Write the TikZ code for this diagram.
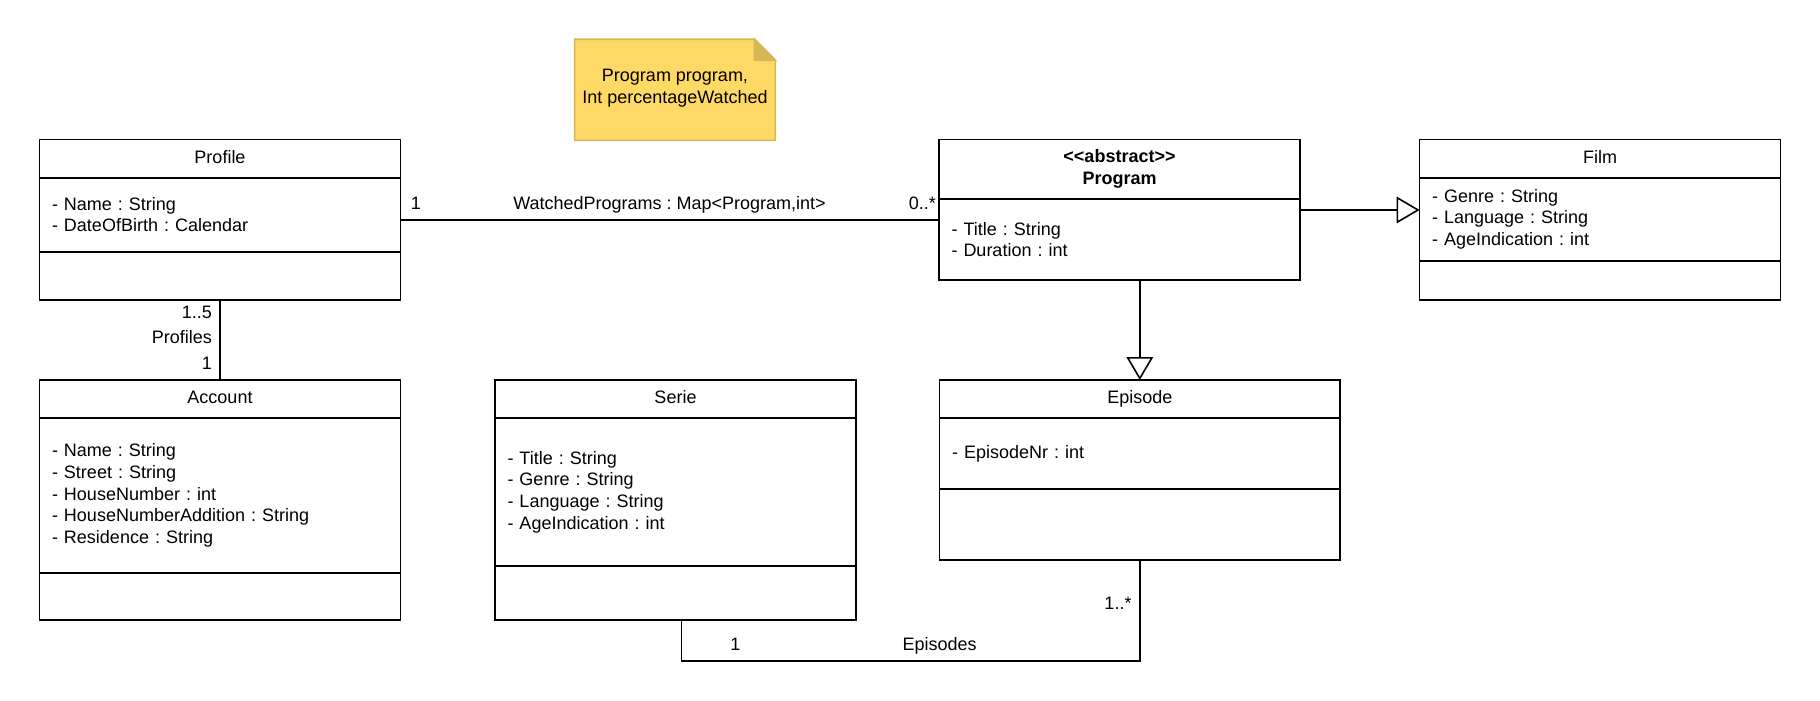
\documentclass[tikz,border=0pt]{standalone}
\usepackage{fontspec}
\setmainfont{Liberation Sans}
\usetikzlibrary{positioning,arrows.meta}
\definecolor{notefill}{HTML}{FFD966}
\definecolor{notedraw}{HTML}{D6B656}
\tikzset{
  box/.style={draw, line width=1.6pt, inner sep=0pt, outer sep=0pt, minimum width=361pt},
  head/.style={box, align=center, anchor=north west, text depth=3.8pt},
  attrs/.style={box, align=left, text width=336pt, inner xsep=12.5pt, inner ysep=0pt},
  lbl/.style={inner sep=0pt, text height=12.9pt, text depth=3.8pt},
  assoc/.style={line width=1.6pt},
  gen/.style={line width=1.6pt, -{Triangle[open, length=23pt, width=26.6pt, line width=1.6pt]}}
}
\frenchspacing
\begin{document}
\begin{tikzpicture}[x=1pt, y=-1pt, font=\fontsize{18pt}{21.7pt}\selectfont\frenchspacing]
\useasboundingbox (0,0) rectangle (1820,701);

% note
\filldraw[fill=notefill, draw=notedraw, line width=1.6pt]
  (574.6,39.3) -- (754.5,39.3) -- (775.4,60.3) -- (775.4,140.3) -- (574.6,140.3) -- cycle;
\filldraw[fill=notedraw, draw=notedraw, line width=1.6pt]
  (754.5,39.3) -- (754.5,60.3) -- (775.4,60.3) -- cycle;
\node[align=center] (note) at (675,88.2) {Program program,\\Int percentageWatched};

% Profile
\node[head, minimum height=38.4pt] (profile) at (39.5,139.3) {Profile};
\node[attrs, minimum height=74pt, below=0pt of profile] (profileA)
  {- Name : String\\- DateOfBirth : Calendar};
\node[box, minimum height=48.3pt, below=0pt of profileA] (profileM) {};

% Program
\node[head, minimum height=59.7pt] (program) at (939,139.3)
  {\textbf{<\kern0pt<abstract>\kern0pt>}\\\textbf{Program}};
\node[attrs, minimum height=81pt, below=0pt of program] (programA)
  {- Title : String\\- Duration : int};

% Film
\node[head, minimum height=38.4pt] (film) at (1419.6,139.3) {Film};
\node[attrs, minimum height=83pt, below=0pt of film] (filmA)
  {- Genre : String\\- Language : String\\- AgeIndication : int};
\node[box, minimum height=39.3pt, below=0pt of filmA] (filmM) {};

% Account
\node[head, minimum height=38pt] (account) at (39.5,380) {Account};
\node[attrs, minimum height=154.7pt, below=0pt of account] (accountA)
  {- Name : String\\- Street : String\\- HouseNumber : int\\- HouseNumberAddition : String\\- Residence : String};
\node[box, minimum height=47pt, below=0pt of accountA] (accountM) {};

% Serie
\node[head, minimum height=38pt] (serie) at (495,380) {Serie};
\node[attrs, minimum height=148pt, below=0pt of serie] (serieA)
  {- Title : String\\- Genre : String\\- Language : String\\- AgeIndication : int};
\node[box, minimum height=53.7pt, below=0pt of serieA] (serieM) {};

% Episode
\node[head, minimum height=38pt, minimum width=400.4pt] (episode) at (939.6,380) {Episode};
\node[attrs, minimum height=70.7pt, minimum width=400.4pt, text width=375.4pt, below=0pt of episode] (episodeA)
  {- EpisodeNr : int};
\node[box, minimum height=71.3pt, minimum width=400.4pt, below=0pt of episodeA] (episodeM) {};

% connectors
\coordinate (wp) at ([yshift=-5.3pt]profileA.east);
\draw[assoc] (wp) -- (wp -| programA.west);
\node[lbl] (m1) at (416,204.5) {1};
\node[lbl] (wpname) at (669.5,204.5) {WatchedPrograms : Map<Program,int>};
\node[lbl, anchor=east] (m2) at (936,204.5) {0..*};

\coordinate (gf) at ([yshift=29.5pt]programA.east);
\draw[gen] (gf) -- (gf -| filmA.west);

\draw[gen] (programA.south -| episode.north) -- (episode.north);

\draw[assoc] (profileM.south) -- (account.north);
\node[lbl, anchor=east] (m3) at (212,313.5) {1..5};
\node[lbl, anchor=east] (prof) at (212,339.1) {Profiles};
\node[lbl, anchor=east] (m4) at (212,364.5) {1};

\coordinate (sb) at ([xshift=5.8pt]serieM.south);
\draw[assoc] (sb) -- ++(0,41) -| (episodeM.south);
\node[lbl] (m5) at (735.3,645.8) {1};
\node[lbl] (eps) at (939.6,645.8) {Episodes};
\node[lbl, anchor=east] (m6) at (1131.7,605.1) {1..*};
\end{tikzpicture}
\end{document}
